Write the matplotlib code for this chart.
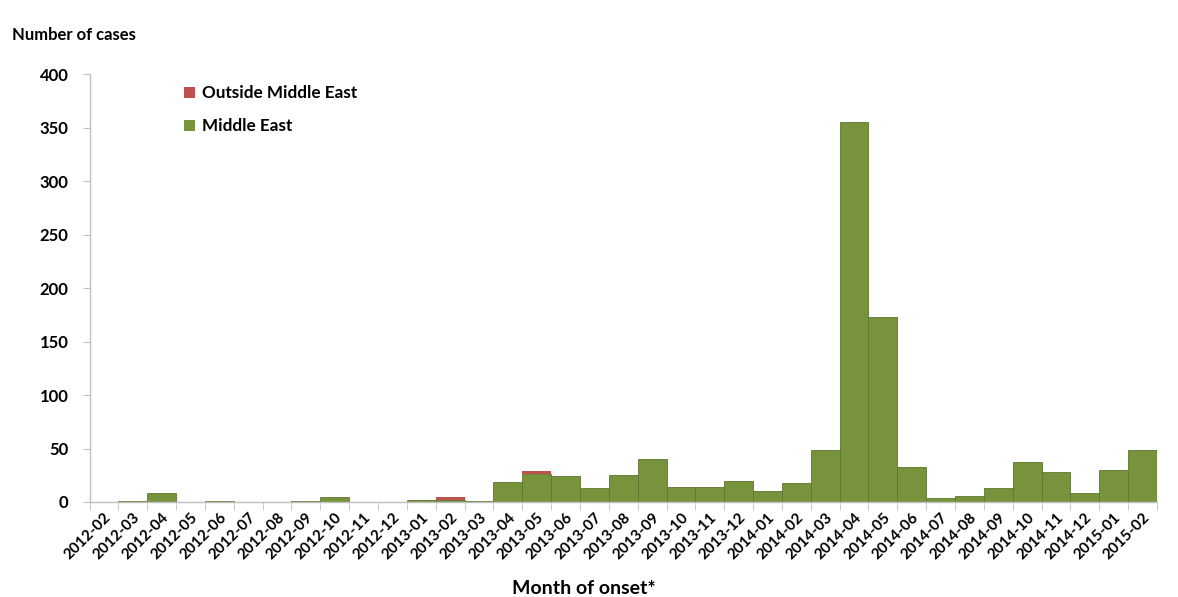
import matplotlib
matplotlib.use("Agg")
import matplotlib.pyplot as plt
from matplotlib.patches import Patch
import numpy as np

plt.rcParams['font.family'] = ['Lato', 'DejaVu Sans']
plt.rcParams['font.weight'] = 'bold'

# months of onset, one bar per month
months = ["2012-02", "2012-03", "2012-04", "2012-05", "2012-06", "2012-07",
          "2012-08", "2012-09", "2012-10", "2012-11", "2012-12", "2013-01",
          "2013-02", "2013-03", "2013-04", "2013-05", "2013-06", "2013-07",
          "2013-08", "2013-09", "2013-10", "2013-11", "2013-12", "2014-01",
          "2014-02", "2014-03", "2014-04", "2014-05", "2014-06", "2014-07",
          "2014-08", "2014-09", "2014-10", "2014-11", "2014-12", "2015-01",
          "2015-02"]
middle_east = [0, 1, 8, 0, 1, 0, 0, 1, 5, 0, 0, 2,
               2, 1, 19, 26, 24, 13, 25, 40, 14, 14, 20, 10,
               18, 49, 355, 173, 33, 4, 6, 13, 37, 28, 8, 30,
               49]
outside_me = [0, 0, 0, 0, 0, 0, 0, 0, 0, 0, 0, 0,
              3, 0, 0, 3, 0, 0, 0, 0, 0, 0, 0, 0,
              0, 0, 0, 0, 0, 0, 0, 0, 0, 0, 0, 0,
              0]

green = "#77933C"
red = "#C0504D"
grey = "#BFBFBF"

fig = plt.figure(figsize=(11.78, 5.97), dpi=100)
ax = fig.add_axes([89.5/1178, 95/597, (1157-89.5)/1178, (502-74.3)/597])

x = np.arange(len(months))
ax.bar(x, middle_east, width=1.0, color=green, edgecolor="#5E7630", linewidth=0.6)
ax.bar(x, outside_me, width=1.0, bottom=middle_east, color=red, linewidth=0)

ax.set_xlim(-0.5, len(months) - 0.5)
ax.set_ylim(0, 400)
ax.set_yticks(np.arange(0, 401, 50))
ax.tick_params(axis='y', labelsize=12, length=5, color=grey, pad=10)

ax.set_xticks(x)
ax.set_xticklabels(months, rotation=45, ha='right', rotation_mode='anchor', fontsize=11)
ax.tick_params(axis='x', length=0, pad=6)
ax.set_xticks(np.arange(-0.5, len(months)), minor=True)
ax.tick_params(axis='x', which='minor', length=6, color=grey)

for side in ['top', 'right']:
    ax.spines[side].set_visible(False)
for side in ['left', 'bottom']:
    ax.spines[side].set_color(grey)
    ax.spines[side].set_linewidth(1.0)

handles = [Patch(facecolor=red, label="Outside Middle East"),
           Patch(facecolor=green, label="Middle East")]
ax.legend(handles=handles, loc='upper left', bbox_to_anchor=(0.074, 1.01),
          frameon=False, fontsize=12.3, handlelength=0.65, handleheight=0.65,
          handletextpad=0.4, labelspacing=1.0)

fig.text(12/1178, 1 - 35/597, "Number of cases", fontsize=12, va='center', ha='left')
fig.text(584/1178, 1 - 589/597, "Month of onset*", fontsize=14, va='center', ha='center')

fig.savefig("out.png", dpi=100)
